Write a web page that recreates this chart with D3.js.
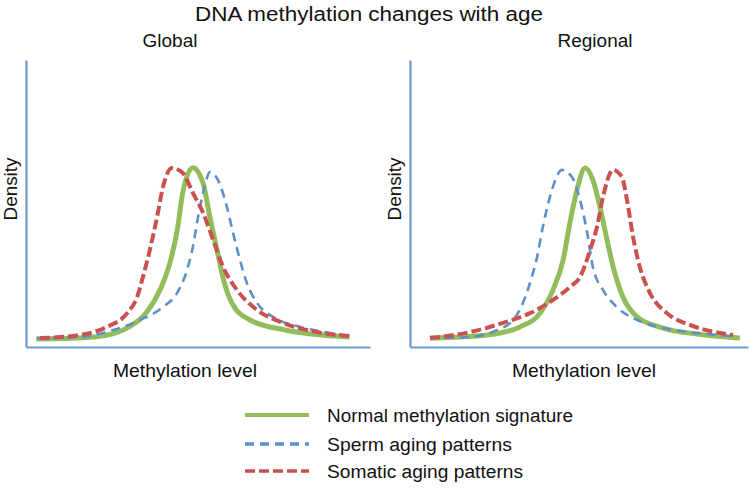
<!DOCTYPE html>
<html>
<head>
<meta charset="utf-8">
<script src="https://cdn.jsdelivr.net/npm/d3@7"></script>
<style>
  html, body { margin: 0; padding: 0; background: #fff; }
  text { font-family: "Liberation Sans", Arial, Helvetica, sans-serif; fill: #111; }
</style>
</head>
<body>
<script>
// ---------- data (methylation level 0-100, density 0-100) ----------
const title = "DNA methylation changes with age";
const panelTitles = ["Global", "Regional"];
const xLabel = "Methylation level";
const yLabel = "Density";
const seriesNames = ["Normal methylation signature", "Sperm aging patterns", "Somatic aging patterns"];

// Global panel
const globalNormalX = [3, 20, 30, 35, 39, 42, 44, 45.6, 48.5, 51.5, 53.5, 55.5, 57.3, 60, 65, 75, 94];
const globalNormalY = [2.8, 3.5, 7, 12, 20, 30, 41, 54, 62.5, 57, 45, 34, 24, 15, 9.5, 6, 3.5];
const globalSpermX = [3.2, 15.7, 25.3, 33.1, 39.8, 43.9, 46.8, 48.5, 50, 51.5, 53.5, 55.8, 58.4, 60.2, 62.2, 64.2, 67.2, 71.8, 79.7, 88.4, 94.2];
const globalSpermY = [3.1, 3.5, 5.9, 9.4, 13.9, 18.8, 26.8, 34.8, 45.3, 53.7, 61, 58.2, 48.8, 39.7, 30.3, 22.3, 15.3, 10.5, 7, 4.9, 3.8];
const globalSomaticX = [4.1, 15.7, 23.5, 29.4, 32.3, 34, 36, 38.1, 39.8, 42.4, 45.6, 48.5, 51.5, 54.4, 57.3, 61.3, 67.2, 74.7, 84.6, 94.2];
const globalSomaticY = [3.1, 4.2, 7, 11.8, 17.4, 24.4, 33.8, 45.3, 55.7, 62.4, 60.6, 53.7, 46.7, 37.3, 27.9, 19.9, 12.9, 8.4, 5.2, 3.8];

// Regional panel
const regionalNormalX = [5.9, 22.8, 32.5, 38.5, 42.3, 45.3, 47.3, 49.4, 51.8, 54.1, 56.2, 58.3, 60.1, 63, 67.2, 74.9, 84.9, 97.6];
const regionalNormalY = [3.1, 4.2, 7, 11.8, 19.9, 30.3, 43.2, 54.7, 62.4, 58.2, 48.8, 37.3, 27.9, 17.4, 10.5, 6.6, 4.5, 3.1];
const regionalSpermX = [5.9, 17.8, 25.7, 30.5, 33.4, 35.5, 37.6, 39.3, 41.4, 45, 47.9, 50.3, 52.4, 54.1, 57.1, 61.2, 67.2, 74.9, 84.9, 94.7];
const regionalSpermY = [3.1, 3.5, 5.9, 9.4, 15.3, 22.3, 31.4, 41.8, 52.3, 61.7, 59.2, 51.2, 40, 27.9, 19.9, 13.9, 9.4, 6.6, 4.9, 3.8];
const regionalSomaticX = [5.9, 17.8, 27.5, 35.5, 42.3, 47.3, 50.3, 53.3, 55.3, 57.1, 60.1, 62.7, 64.2, 66, 68, 71, 76, 82.8, 91.7, 95.6];
const regionalSomaticY = [3.1, 5.2, 8.4, 11.8, 16.4, 20.9, 24.4, 33.8, 41.8, 52.3, 61.7, 59.2, 51.2, 38.3, 27.9, 18.8, 11.8, 7.7, 4.9, 4.2];

// ---------- styles ----------
const colors = ["#93bd5c", "#5f8fc6", "#c9514f"];
const widths = [5, 2.6, 4];
const dashes = [null, "9,6", "10,4"];
const axisColor = "#7099cf";

const W = 756, H = 490;
const svg = d3.select("body").append("svg").attr("width", W).attr("height", H);

function label(sel, x, y, size, len, txt, anchor) {
  return sel.append("text").attr("x", x).attr("y", y)
    .attr("text-anchor", anchor || "middle").style("font-size", size + "px")
    .attr("textLength", len).attr("lengthAdjust", "spacingAndGlyphs").text(txt);
}

label(svg, 369, 21, 20, 348, title);

const panels = [
  { title: panelTitles[0], x0: 26, x1: 370, titleX: 170, titleW: 55, ylabX: 17, xlabX: 185,
    series: [[globalNormalX, globalNormalY], [globalSpermX, globalSpermY], [globalSomaticX, globalSomaticY]] },
  { title: panelTitles[1], x0: 410, x1: 748, titleX: 595, titleW: 75, ylabX: 401, xlabX: 584,
    series: [[regionalNormalX, regionalNormalY], [regionalSpermX, regionalSpermY], [regionalSomaticX, regionalSomaticY]] }
];

const yTop = 60, yBot = 347;

panels.forEach(p => {
  const x = d3.scaleLinear().domain([0, 100]).range([p.x0, p.x1]);
  const y = d3.scaleLinear().domain([0, 100]).range([yBot, yTop]);
  const g = svg.append("g");

  const xAxis = d3.axisBottom(x).tickValues([]).tickSizeOuter(0);
  const yAxis = d3.axisLeft(y).tickValues([]).tickSizeOuter(0);
  const gx = g.append("g").attr("transform", `translate(0,${yBot})`).call(xAxis);
  const gy = g.append("g").attr("transform", `translate(${p.x0},0)`).call(yAxis);
  [gx, gy].forEach(a => a.select(".domain").attr("stroke", axisColor).attr("stroke-width", 2.2));

  const line = d3.line().x(d => x(d[0])).y(d => y(d[1])).curve(d3.curveMonotoneX);
  [0, 1, 2].forEach(i => {
    const [xs, ys] = p.series[i];
    const pts = xs.map((v, k) => [v, ys[k]]);
    g.append("path").datum(pts).attr("d", line)
      .attr("fill", "none").attr("stroke", colors[i]).attr("stroke-width", widths[i])
      .attr("stroke-dasharray", dashes[i]).attr("stroke-linecap", "butt")
      .attr("stroke-linejoin", "round");
  });

  label(g, p.titleX, 47, 17.5, p.titleW, p.title);
  g.append("text").attr("transform", `translate(${p.ylabX},189) rotate(-90)`)
    .attr("text-anchor", "middle").style("font-size", "19px")
    .attr("textLength", 63).attr("lengthAdjust", "spacingAndGlyphs").text(yLabel);
  label(g, p.xlabX, 377, 19, 144, xLabel);
});

// legend
const legY = [415, 444, 471];
const legW = [246, 185, 196];
const lg = svg.append("g");
seriesNames.forEach((name, i) => {
  lg.append("line").attr("x1", 245).attr("x2", 309).attr("y1", legY[i]).attr("y2", legY[i])
    .attr("stroke", colors[i]).attr("stroke-width", i === 0 ? 4 : 3.5)
    .attr("stroke-dasharray", dashes[i]);
  label(lg, 327, legY[i] + 6.5, 18, legW[i], name, "start");
});
</script>
</body>
</html>
